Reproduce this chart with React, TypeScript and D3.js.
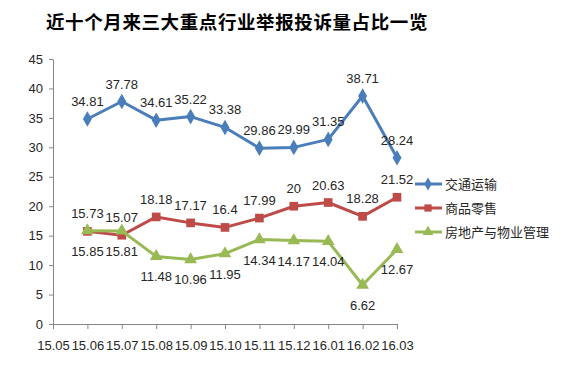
import React from 'react';
import * as d3 from 'd3';

const months = ['15.05', '15.06', '15.07', '15.08', '15.09', '15.10', '15.11', '15.12', '16.01', '16.02', '16.03'];
const transport = [34.81, 37.78, 34.61, 35.22, 33.38, 29.86, 29.99, 31.35, 38.71, 28.24];
const retail = [15.73, 15.07, 18.18, 17.17, 16.4, 17.99, 20, 20.63, 18.28, 21.52];
const property = [15.85, 15.81, 11.48, 10.96, 11.95, 14.34, 14.17, 14.04, 6.62, 12.67];
const seriesNames = ['交通运输', '商品零售', '房地产与物业管理'];
const yTicks = [0, 5, 10, 15, 20, 25, 30, 35, 40, 45];

const App = () => {
    const ref = React.useRef<SVGSVGElement>(null);

    React.useEffect(() => {
        const svg = d3.select(ref.current);
        svg.selectAll('*').remove();

        const x = d3.scaleLinear().domain([0, months.length - 1]).range([53, 397]);
        const y = d3.scaleLinear().domain([0, 45]).range([324, 59]);
        const axisColor = '#868686';
        const textColor = '#262626';
        const numFont = 'Liberation Sans, Arial, sans-serif';

        // title
        svg.append('text')
            .attr('x', 237).attr('y', 29)
            .attr('text-anchor', 'middle')
            .attr('font-family', 'Noto Sans CJK SC')
            .attr('font-weight', 'bold')
            .attr('font-size', 18.5)
            .attr('letter-spacing', 0.6)
            .attr('fill', '#000')
            .text('近十个月来三大重点行业举报投诉量占比一览');

        // y axis
        const yAxis = svg.append('g').attr('transform', 'translate(53,0)')
            .call(d3.axisLeft(y).tickValues(yTicks).tickSize(4).tickSizeOuter(0).tickPadding(6));
        yAxis.select('.domain').attr('stroke', axisColor);
        yAxis.selectAll('.tick line').attr('stroke', axisColor);
        yAxis.selectAll('.tick text').attr('font-family', numFont).attr('font-size', 13).attr('fill', textColor);

        // x axis
        const xAxis = svg.append('g').attr('transform', 'translate(0,324)')
            .call(d3.axisBottom(x).tickValues(d3.range(months.length)).tickFormat((i) => months[i as number])
                .tickSize(5).tickSizeOuter(0).tickPadding(12));
        xAxis.select('.domain').attr('stroke', axisColor);
        xAxis.selectAll('.tick line').attr('stroke', axisColor);
        xAxis.selectAll('.tick text').attr('font-family', numFont).attr('font-size', 13).attr('fill', textColor);

        const series = [
            { name: seriesNames[0], values: transport, color: '#4A7EBB', marker: d3.symbolDiamond, size: 70, labelDy: -13 },
            { name: seriesNames[1], values: retail, color: '#BE4B48', marker: d3.symbolSquare, size: 75, labelDy: -13 },
            { name: seriesNames[2], values: property, color: '#98B954', marker: d3.symbolTriangle, size: 70, labelDy: 25 },
        ];

        const line = d3.line<number>().x((_, i) => x(i + 1)).y((d) => y(d));

        series.forEach((s) => {
            const g = svg.append('g');
            g.append('path')
                .attr('d', line(s.values))
                .attr('fill', 'none')
                .attr('stroke', s.color)
                .attr('stroke-width', 3)
                .attr('stroke-linejoin', 'round');
            g.selectAll('path.m').data(s.values).enter().append('path')
                .attr('class', 'm')
                .attr('transform', (d, i) => `translate(${x(i + 1)},${y(d)})`)
                .attr('d', d3.symbol().type(s.marker).size(s.size)())
                .attr('fill', s.color);
        });

        // data labels drawn after lines
        series.forEach((s) => {
            svg.append('g').selectAll('text').data(s.values).enter().append('text')
                .attr('x', (_, i) => x(i + 1))
                .attr('y', (d) => y(d) + s.labelDy)
                .attr('text-anchor', 'middle')
                .attr('font-family', numFont)
                .attr('font-size', 13)
                .attr('fill', textColor)
                .text((d) => String(d));
        });

        // legend
        const legend = svg.append('g');
        series.forEach((s, i) => {
            const ly = 184 + i * 24;
            legend.append('line')
                .attr('x1', 415).attr('x2', 442).attr('y1', ly).attr('y2', ly)
                .attr('stroke', s.color).attr('stroke-width', 3);
            legend.append('path')
                .attr('transform', `translate(428,${ly})`)
                .attr('d', d3.symbol().type(s.marker).size(s.size * 0.7)())
                .attr('fill', s.color);
            legend.append('text')
                .attr('x', 445).attr('y', ly + 5)
                .attr('font-family', 'Noto Sans CJK SC')
                .attr('font-size', 13)
                .attr('fill', textColor)
                .text(s.name);
        });
    }, []);

    return <svg ref={ref} width={572} height={365} style={{ position: 'absolute', left: 0, top: 0, background: '#fff' }} />;
};

export default App;
